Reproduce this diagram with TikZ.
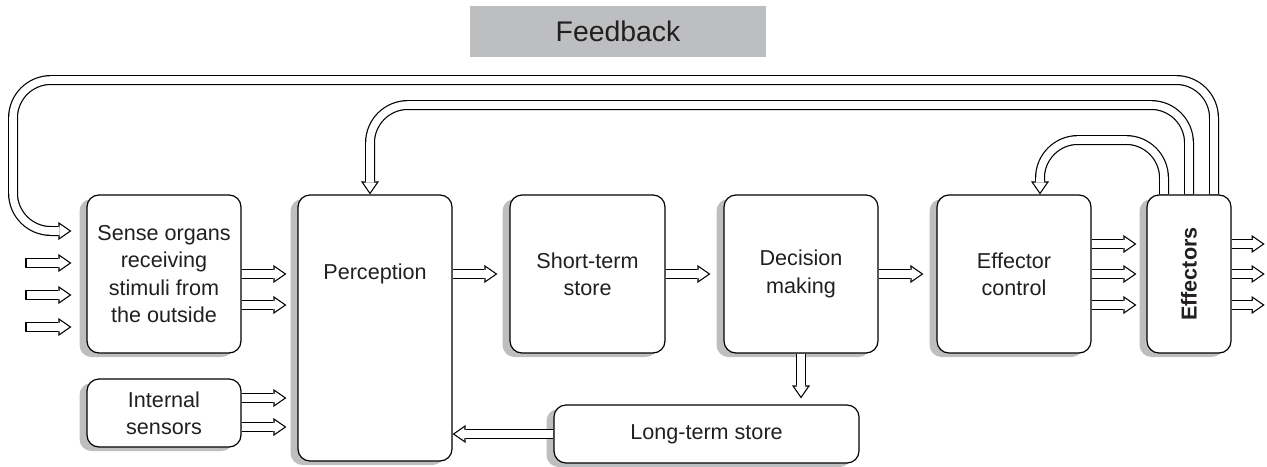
\documentclass[tikz,border=0pt]{standalone}
\usepackage{fontspec}
\setmainfont{Liberation Sans}
\usetikzlibrary{arrows.meta,shadows,calc}
\definecolor{shadowgray}{RGB}{189,190,192}
\definecolor{ink}{RGB}{35,31,32}
\tikzset{
  box/.style={draw, line width=0.6pt, rounded corners=6pt, fill=white, align=center,
    general shadow={fill=shadowgray, shadow xshift=-3.75pt, shadow yshift=-2pt}},
  hollow out/.style={draw=black, line width=5pt, rounded corners=19pt,
    -{Triangle[length=6.5pt, width=9pt, line width=0pt]}},
  hollow in/.style={draw=white, line width=3.8pt, rounded corners=19pt, shorten <=0.3pt,
    -{Triangle[length=4.85pt, width=6.7pt, line width=0pt]}}
}
\newcommand{\hollow}[3][]{%
  \draw[hollow out, shorten >=#2] #3;
  \draw[hollow in, shorten >=#2+1.05pt, #1] #3;}

\begin{document}
\begin{tikzpicture}[x=0.5pt, y=-0.5pt, font=\fontsize{10.8}{13.7}\selectfont, text=ink]
  \useasboundingbox (0,0) rectangle (1267,466);
  % boxes
  \node[fill=shadowgray, minimum width=148pt, minimum height=25.5pt, font=\fontsize{14.2}{17}\selectfont] (fb) at (618,31.5) {Feedback};
  \node[box, minimum width=77pt, minimum height=79pt] (sense) at (164,274) {Sense organs\\receiving\\stimuli from\\the outside};
  \node[box, minimum width=77pt, minimum height=34pt] (intern) at (164,413) {Internal\\sensors};
  \node[box, minimum width=77pt, minimum height=133pt, label={[yshift=27pt]center:Perception}] (percep) at (375,328) {};
  \node[box, minimum width=77.5pt, minimum height=79pt] (sto) at (587.5,274) {Short-term\\store};
  \node[box, minimum width=77pt, minimum height=79pt] (dec) at (801,274) {Decision\\making};
  \node[box, minimum width=152.5pt, minimum height=29pt] (ltm) at (706.5,434) {Long-term store};
  \node[box, minimum width=77pt, minimum height=79pt] (effc) at (1014,274) {Effector\\control};
  \node[box, minimum width=42pt, minimum height=79pt,
    label={[rotate=90, font=\fontsize{10.8}{13.7}\selectfont\bfseries]center:Effectors}] (eff) at (1189,274) {};

  % feedback loops
  \hollow{7.5pt}{([xshift=12.5pt]eff.north) |- (13,80) |- ($(sense.west)+(0,-43)$)};
  \hollow{0pt}{(eff.north) |- (370,105) -- ([xshift=-2.5pt]percep.north)};
  \hollow{0pt}{([xshift=-12.5pt]eff.north) |- (1040,140) -- ([xshift=13pt]effc.north)};

  % stimuli
  \foreach \dy in {-11,21,53}
    \hollow[shorten <=0.6pt]{7.5pt}{($(sense.west)+(-61,\dy)$) -- ($(sense.west)+(0,\dy)$)};
  \foreach \dy in {0,31}
    \hollow{5.5pt}{($(sense.east)+(0,\dy)$) -- ($(sense.east -| percep.west)+(0,\dy)$)};
  \foreach \dy in {-15,14}
    \hollow{5.5pt}{($(intern.east)+(0,\dy)$) -- ($(intern.east -| percep.west)+(0,\dy)$)};

  % main chain
  \hollow{6pt}{(percep.east |- sto.west) -- (sto.west)};
  \hollow{6.5pt}{(sto.east) -- (dec.west)};
  \hollow{6.5pt}{(dec.east) -- (effc.west)};
  \foreach \dy in {-30,0,31}
    \hollow{5pt}{($(effc.east)+(0,\dy)$) -- ($(eff.west)+(0,\dy)$)};
  \foreach \dy in {-30,0,31}
    \hollow{0pt}{($(eff.east)+(0,\dy)$) -- ($(eff.east)+(33,\dy)$)};

  % long-term store
  \hollow{3pt}{(dec.south) -- (dec.south |- ltm.north)};
  \hollow{0pt}{(ltm.west) -- (ltm.west -| percep.east)};
\end{tikzpicture}
\end{document}
